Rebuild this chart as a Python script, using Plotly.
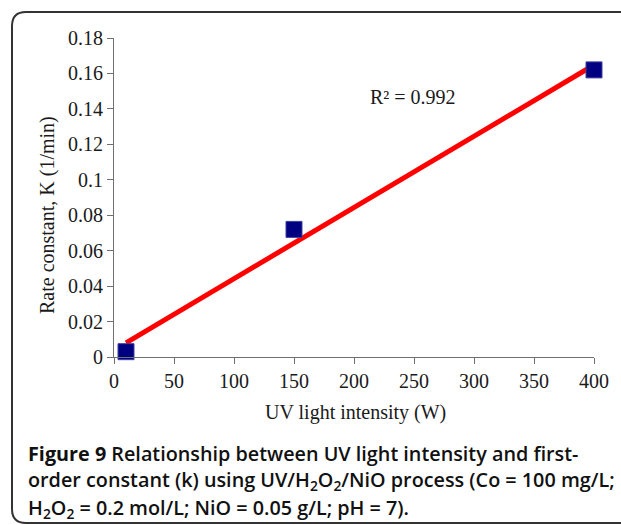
import numpy as np
import plotly.graph_objects as go

# UV light intensity (W) and first-order rate constant k (1/min)
uv_power = [10, 150, 400]
rate_k = [0.003, 0.072, 0.162]
r_squared_label = "R² = 0.992"

x_ticks = [0, 50, 100, 150, 200, 250, 300, 350, 400]
y_ticks = [0, 0.02, 0.04, 0.06, 0.08, 0.1, 0.12, 0.14, 0.16, 0.18]
y_tick_text = ["0", "0.02", "0.04", "0.06", "0.08", "0.1", "0.12", "0.14", "0.16", "0.18"]

caption_lines = [
    "<b>Figure 9</b> Relationship between UV light intensity and first-",
    "order constant (k) using UV/H<sub>2</sub>O<sub>2</sub>/NiO process (Co = 100 mg/L;",
    "H<sub>2</sub>O<sub>2</sub> = 0.2 mol/L; NiO = 0.05 g/L; pH = 7).",
]

# least-squares linear trend through the measured points
slope, intercept = np.polyfit(uv_power, rate_k, 1)
trend_x = [min(uv_power), max(uv_power)]
trend_y = [slope * v + intercept for v in trend_x]

W, H = 621, 525
L, R, T, B = 114, 27, 38, 168
pw, ph = W - L - R, H - T - B


def px(x):
    return (x - L) / pw


def py(y):
    return (H - B - y) / ph


fig = go.Figure()
fig.add_trace(go.Scatter(
    x=trend_x, y=trend_y, mode="lines",
    line=dict(color="#ff0000", width=5),
    hoverinfo="skip", showlegend=False, cliponaxis=False,
))
fig.add_trace(go.Scatter(
    x=uv_power, y=rate_k, mode="markers",
    marker=dict(symbol="square", size=16, color="#000080",
                line=dict(color="#4040a0", width=1)),
    showlegend=False, cliponaxis=False,
))

serif = "Liberation Serif, Times New Roman, serif"
axis_common = dict(
    showgrid=False, zeroline=False, showline=True, linecolor="#707070",
    linewidth=1.2, ticks="outside", tickcolor="#707070", ticklen=6,
    tickfont=dict(family=serif, size=20, color="#1a1a1a"),
)
fig.update_xaxes(range=[0, 400], tickvals=x_ticks, **axis_common)
fig.update_yaxes(range=[0, 0.18], tickvals=y_ticks, ticktext=y_tick_text,
                 **axis_common)

# rounded frame around figure and caption
x0, y0 = px(12), py(12)
x1, y1 = px(W + 20), py(523)
rx, ry = 14 / pw, 14 / ph
frame = (f"M {x0},{y1 + ry} L {x0},{y0 - ry} Q {x0},{y0} {x0 + rx},{y0} "
         f"L {x1},{y0} L {x1},{y1} L {x0 + rx},{y1} Q {x0},{y1} {x0},{y1 + ry} Z")
fig.add_shape(type="path", xref="paper", yref="paper", path=frame,
              line=dict(color="#333333", width=2), layer="below")

label_font = dict(family=serif, size=20, color="#1a1a1a")
fig.add_annotation(
    x=px(413), y=py(97), xref="paper", yref="paper", text=r_squared_label,
    xanchor="center", yanchor="middle", showarrow=False, font=label_font,
)
fig.add_annotation(
    x=px(355), y=py(412), xref="paper", yref="paper",
    text="UV light intensity (W)", xanchor="center", yanchor="middle",
    showarrow=False, font=label_font,
)
fig.add_annotation(
    x=px(47), y=py(215), xref="paper", yref="paper",
    text="Rate constant, K (1/min)", textangle=-90, xanchor="center",
    yanchor="middle", showarrow=False, font=label_font,
)

caption_font = dict(family="Open Sans, sans-serif", size=19.8,
                    color="#111111", weight=600)
for i, line in enumerate(caption_lines):
    fig.add_annotation(
        x=px(26), y=py(453 + 27.5 * i), xref="paper", yref="paper",
        text=line, xanchor="left", yanchor="middle", align="left",
        showarrow=False, font=caption_font,
    )

fig.update_layout(
    width=W, height=H, margin=dict(l=L, r=R, t=T, b=B),
    paper_bgcolor="white", plot_bgcolor="white",
)
fig.write_html("out.html")
